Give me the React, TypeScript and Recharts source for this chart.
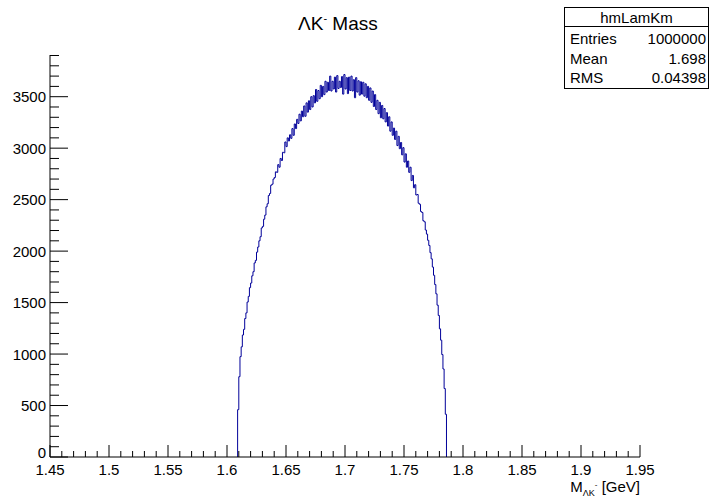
import React from 'react'
import { LineChart, Line, XAxis, YAxis } from 'recharts'

// hmLamKm: Lambda K- invariant mass, entries per bin
const BIN_START = 1.609
const BIN_WIDTH = 0.001
const COUNTS = [
  460, 780, 975, 1070, 1185, 1240, 1345, 1400, 1505, 1560,
  1645, 1690, 1760, 1800, 1885, 1910, 1990, 2040, 2100, 2140,
  2225, 2240, 2310, 2350, 2430, 2460, 2540, 2560, 2640, 2650,
  2700, 2715, 2770, 2765, 2840, 2815, 2900, 2880, 2960, 2955,
  3060, 3015, 3100, 3070, 3130, 3095, 3190, 3125, 3235, 3190,
  3280, 3240, 3330, 3265, 3360, 3305, 3410, 3310, 3440, 3350,
  3460, 3375, 3500, 3400, 3510, 3440, 3570, 3455, 3560, 3480,
  3610, 3500, 3600, 3520, 3650, 3545, 3640, 3560, 3700, 3555,
  3650, 3575, 3690, 3545, 3705, 3580, 3650, 3590, 3695, 3525,
  3715, 3575, 3685, 3530, 3690, 3560, 3700, 3555, 3665, 3490,
  3685, 3545, 3655, 3515, 3645, 3525, 3640, 3505, 3625, 3490,
  3600, 3465, 3585, 3445, 3555, 3405, 3520, 3375, 3465, 3335,
  3445, 3295, 3415, 3285, 3385, 3255, 3345, 3215, 3305, 3165,
  3255, 3125, 3195, 3085, 3165, 3025, 3115, 2995, 3055, 2935,
  3005, 2865, 2945, 2815, 2875, 2765, 2815, 2685, 2735, 2615,
  2645, 2545, 2550, 2465, 2455, 2385, 2375, 2295, 2285, 2205,
  2165, 2105, 2055, 1985, 1925, 1845, 1765, 1675, 1585, 1475,
  1375, 1245, 1135, 995, 855, 665, 415,
]

const X_MAJOR = [1.45, 1.5, 1.55, 1.6, 1.65, 1.7, 1.75, 1.8, 1.85, 1.9, 1.95]
const Y_MAJOR = [0, 500, 1000, 1500, 2000, 2500, 3000, 3500]
const X_DIVISIONS = 5
const Y_DIVISIONS = 5
const Y_MAX = 3905

const STATS_NAME = 'hmLamKm'
const STATS_ROWS = [
  ['Entries', '1000000'],
  ['Mean', '1.698'],
  ['RMS', '0.04398'],
]

const FONT = '"Liberation Sans", Arial, Helvetica, sans-serif'
const HIST_COLOR = '#000099'

const edge = (i: number) => Number((BIN_START + i * BIN_WIDTH).toFixed(4))

// step line: closed at zero on both ends
const histData = [
  { m: edge(0), n: 0 },
  ...COUNTS.map((n, i) => ({ m: edge(i), n })),
  { m: edge(COUNTS.length), n: 0 },
]

const xStep = (X_MAJOR[1] - X_MAJOR[0]) / X_DIVISIONS
const xTicks: number[] = []
for (let i = 0; i <= (X_MAJOR.length - 1) * X_DIVISIONS; i++) {
  xTicks.push(Number((X_MAJOR[0] + i * xStep).toFixed(3)))
}
const yStep = (Y_MAJOR[1] - Y_MAJOR[0]) / Y_DIVISIONS
const yTicks: number[] = []
for (let v = 0; v <= Y_MAX; v += yStep) yTicks.push(v)

const isXMajor = (v: number) => X_MAJOR.some(m => Math.abs(m - v) < 1e-6)
const isYMajor = (v: number) => Y_MAJOR.includes(v)

function XTick({ x, y, payload }: any) {
  const major = isXMajor(payload.value)
  return (
    <g>
      <line x1={x} x2={x} y1={y} y2={y - (major ? 12 : 6)} stroke="#000" strokeWidth={1} />
      {major && (
        <text x={x} y={y + 18} textAnchor="middle" fontSize={15} fontFamily={FONT} fill="#000">
          {String(payload.value)}
        </text>
      )}
    </g>
  )
}

function YTick({ x, y, payload }: any) {
  const major = isYMajor(payload.value)
  // the zero label sits a little higher so it clears the x labels
  const dy = payload.value === 0 ? 1 : 5.5
  return (
    <g>
      <line x1={x} x2={x + (major ? 18 : 9)} y1={y} y2={y} stroke="#000" strokeWidth={1} />
      {major && (
        <text x={x - 4} y={y + dy} textAnchor="end" fontSize={15} fontFamily={FONT} fill="#000">
          {payload.value}
        </text>
      )}
    </g>
  )
}

export default function App() {
  return (
    <div style={{ position: 'absolute', left: 0, top: 0, width: 710, height: 497, background: '#fff' }}>
      <LineChart
        width={710}
        height={497}
        data={histData}
        margin={{ top: 55, right: 70, bottom: 0, left: 0 }}
      >
        <XAxis
          dataKey="m"
          type="number"
          domain={[X_MAJOR[0], X_MAJOR[X_MAJOR.length - 1]]}
          ticks={xTicks}
          interval={0}
          allowDataOverflow
          height={40}
          tickLine={false}
          tickSize={0}
          tickMargin={0}
          tick={<XTick />}
          axisLine={{ stroke: '#000' }}
        />
        <XAxis
          xAxisId="top"
          dataKey="m"
          type="number"
          orientation="top"
          domain={[X_MAJOR[0], X_MAJOR[X_MAJOR.length - 1]]}
          height={0}
          tick={false}
          tickLine={false}
          axisLine={{ stroke: '#000' }}
        />
        <YAxis
          type="number"
          domain={[0, Y_MAX]}
          ticks={yTicks}
          interval={0}
          allowDataOverflow
          width={50}
          tickLine={false}
          tickSize={0}
          tickMargin={0}
          tick={<YTick />}
          axisLine={{ stroke: '#000' }}
        />
        <YAxis
          yAxisId="right"
          orientation="right"
          domain={[0, Y_MAX]}
          width={0}
          tick={false}
          tickLine={false}
          axisLine={{ stroke: '#000' }}
        />
        <Line
          type="stepAfter"
          dataKey="n"
          stroke={HIST_COLOR}
          strokeWidth={1}
          dot={false}
          activeDot={false}
          isAnimationActive={false}
        />
      </LineChart>

      <svg
        width={710}
        height={497}
        style={{ position: 'absolute', left: 0, top: 0, pointerEvents: 'none' }}
        fontFamily={FONT}
      >
        <text x={298} y={30} fontSize={19} fill="#000">
          ΛK<tspan fontSize={11} dy={-8}>-</tspan>
          <tspan fontSize={19} dy={8}> Mass</tspan>
        </text>

        <rect x={564.5} y={7.5} width={144} height={81} fill="#fff" stroke="#000" strokeWidth={1} />
        <line x1={564.5} x2={708.5} y1={26.5} y2={26.5} stroke="#000" strokeWidth={1} />
        <text x={636.5} y={23} textAnchor="middle" fontSize={15} fill="#000">{STATS_NAME}</text>
        {STATS_ROWS.map(([label, value], i) => (
          <g key={label}>
            <text x={570} y={44 + i * 19.5} fontSize={15} fill="#000">{label}</text>
            <text x={706} y={44 + i * 19.5} textAnchor="end" fontSize={15} fill="#000">{value}</text>
          </g>
        ))}

        <text x={640} y={492} textAnchor="end" fontSize={15} fill="#000">
          M<tspan fontSize={9} dy={4}>ΛK</tspan>
          <tspan fontSize={8} dy={-9}>-</tspan>
          <tspan fontSize={15} dy={5}> [GeV]</tspan>
        </text>
      </svg>
    </div>
  )
}
